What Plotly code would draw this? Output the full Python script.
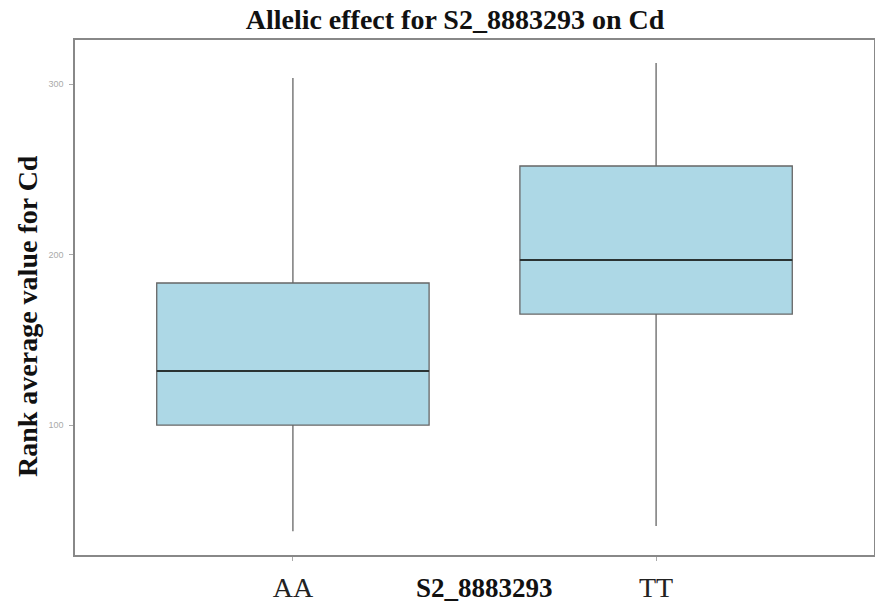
import plotly.graph_objects as go

categories = ["AA", "TT"]
lower_whisker = [37.8, 40.8]
q1 = [100.0, 165.1]
median = [131.7, 196.8]
q3 = [183.3, 251.9]
upper_whisker = [303.5, 312.3]
y_ticks = [100, 200, 300]

box_width = 0.75
xpos = list(range(len(categories)))

fig = go.Figure()
fig.add_trace(go.Box(
    x=xpos,
    q1=q1, median=median, q3=q3,
    lowerfence=lower_whisker, upperfence=upper_whisker,
    width=box_width,
    whiskerwidth=0,
    fillcolor="#ADD8E6",
    line=dict(color="#666666", width=1.3),
    boxpoints=False,
    showlegend=False,
    hoverinfo="skip",
))
# darker median lines derived from the data
for i, m in zip(xpos, median):
    fig.add_trace(go.Scatter(
        x=[i - box_width / 2, i + box_width / 2], y=[m, m],
        mode="lines", line=dict(color="#2a3333", width=2.2),
        showlegend=False, hoverinfo="skip",
    ))

fig.update_layout(
    width=875, height=609,
    paper_bgcolor="white", plot_bgcolor="white",
    margin=dict(l=75, r=1, t=40, b=54, autoexpand=False),
    title=dict(
        text="<b>Allelic effect for S2_8883293 on Cd</b>",
        font=dict(family="Liberation Serif", size=28, color="#111111"),
        x=0.52, xanchor="center", y=0.969, yanchor="middle",
    ),
    xaxis=dict(
        range=[-0.6, 1.6], automargin=False,
        tickmode="array", tickvals=xpos, ticktext=categories,
        tickfont=dict(family="Liberation Serif", size=28, color="#222222"),
        ticks="outside", ticklen=4, tickcolor="#aaaaaa", tickwidth=1,
        ticklabelstandoff=3,
        showline=True, linecolor="#888888", linewidth=1.5, mirror=True,
        showgrid=False, zeroline=False,
    ),
    yaxis=dict(
        range=[23.8, 325.8], automargin=False,
        tickmode="array", tickvals=y_ticks,
        tickfont=dict(family="Liberation Sans", size=9, color="#aaaaaa"),
        ticks="outside", ticklen=4, tickcolor="#aaaaaa", tickwidth=1,
        ticklabelstandoff=4,
        showline=True, linecolor="#888888", linewidth=1.5, mirror=True,
        showgrid=False, zeroline=False,
    ),
    annotations=[
        dict(
            text="<b>S2_8883293</b>",
            xref="paper", yref="paper", x=0.513, y=0, yshift=-33,
            xanchor="center", yanchor="middle", showarrow=False,
            font=dict(family="Liberation Serif", size=27, color="#111111"),
        ),
        dict(
            text="<b>Rank average value for Cd</b>",
            xref="paper", yref="paper", x=0, xshift=-48, y=0.464,
            xanchor="center", yanchor="middle", textangle=-90, showarrow=False,
            font=dict(family="Liberation Serif", size=28, color="#111111"),
        ),
    ],
)

fig.write_html(
    "out.html",
    config={"displayModeBar": False},
    post_script="document.body.style.margin='0';",
)
